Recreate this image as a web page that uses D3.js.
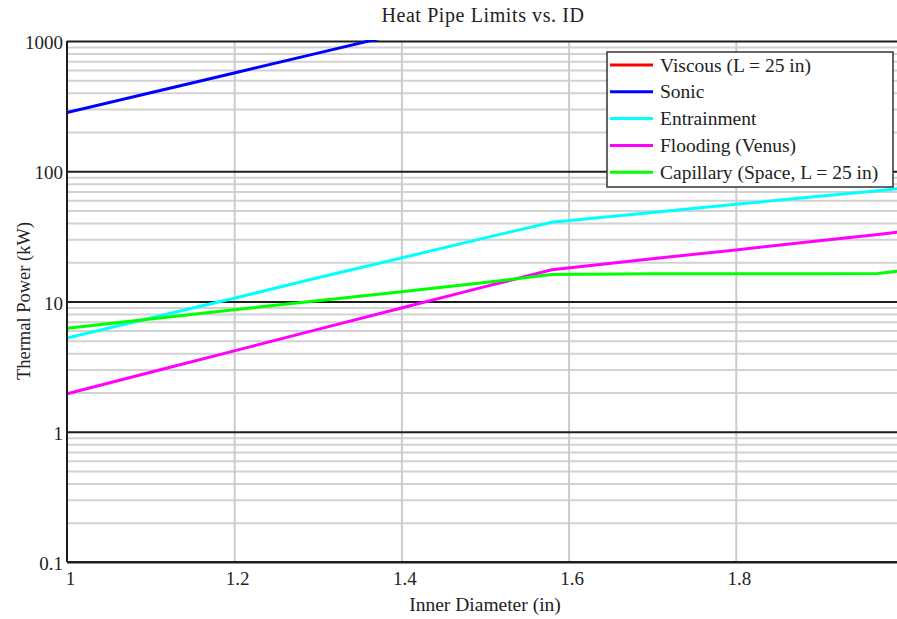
<!DOCTYPE html>
<html>
<head>
<meta charset="utf-8">
<script src="https://cdn.jsdelivr.net/npm/d3@7"></script>
<style>
  html, body { margin: 0; padding: 0; background: #fff; }
  svg { display: block; }
  text { font-family: "Liberation Serif", "Times New Roman", serif; fill: #222; }
</style>
</head>
<body>
<svg id="chart" width="897" height="619"></svg>
<script>
// ---- data ----
const diameters   = [1.0, 1.1, 1.2, 1.3, 1.4, 1.5, 1.58, 1.7, 1.8, 1.9, 1.97, 2.0];
const entrainment = [5.23, 7.46, 10.6, 15.2, 21.6, 30.8, 40.6, 48.3, 55.7, 64.2, 70.9, 74.0];
const flooding    = [1.96, 2.86, 4.18, 6.11, 8.92, 13.0, 17.5, 21.3, 24.9, 29.3, 32.7, 34.4];
const capillary   = [6.24, 7.34, 8.64, 10.15, 11.9, 14.0, 16.1, 16.3, 16.3, 16.3, 16.4, 17.3];
const sonicD      = [1.0, 1.1, 1.2, 1.3, 1.4];
const sonic       = [282, 400, 568, 807, 1146];
// Viscous limit lies above the plotted range (off-scale, not visible)
const viscous     = [null, null, null, null, null, null, null, null, null, null, null, null];

const seriesNames  = ["Viscous (L = 25 in)", "Sonic", "Entrainment", "Flooding (Venus)", "Capillary (Space, L = 25 in)"];
const seriesColors = ["#ff0000", "#0000ff", "#00ffff", "#ff00ff", "#00ff00"];
const xTicks = [1, 1.2, 1.4, 1.6, 1.8];
const xTickLabels = ["1", "1.2", "1.4", "1.6", "1.8"];
const yMajor = [0.1, 1, 10, 100, 1000];
const yMajorLabels = ["0.1", "1", "10", "100", "1000"];
const title = "Heat Pipe Limits vs. ID";
const xTitle = "Inner Diameter (in)";
const yTitle = "Thermal Power (kW)";

(function () {
// ---- layout ----
const svg = d3.select("#chart");
const pL = 67, pR = 903, pT = 41, pB = 562;
const x = d3.scaleLinear().domain([1, 2]).range([pL, pR]);
const y = d3.scaleLog().domain([0.1, 1000]).range([pB, pT]);

svg.append("defs").append("clipPath").attr("id", "plotclip")
  .append("rect").attr("x", pL).attr("y", pT - 1).attr("width", pR - pL).attr("height", pB - pT + 2);

// minor horizontal gridlines
const minor = y.ticks().filter(v => !yMajor.some(m => Math.abs(m - v) / m < 1e-6));
const yMinorAxis = d3.axisLeft(y).tickValues(minor).tickSize(-(pR - pL)).tickFormat("");
const gMinor = svg.append("g").attr("transform", `translate(${pL},0)`).call(yMinorAxis);
gMinor.select(".domain").remove();
gMinor.selectAll("line").attr("stroke", "#d2d2d2").attr("stroke-width", 2);

// vertical gridlines
const xGridAxis = d3.axisBottom(x).tickValues([1.2, 1.4, 1.6, 1.8, 2.0]).tickSize(-(pB - pT)).tickFormat("");
const gXGrid = svg.append("g").attr("transform", `translate(0,${pB})`).call(xGridAxis);
gXGrid.select(".domain").remove();
gXGrid.selectAll("line").attr("stroke", "#cccccc").attr("stroke-width", 2);

// major horizontal lines + labels
const yMajorAxis = d3.axisLeft(y).tickValues(yMajor).tickSize(-(pR - pL))
  .tickFormat((d, i) => yMajorLabels[i]).tickPadding(4);
const gMajor = svg.append("g").attr("transform", `translate(${pL},0)`).call(yMajorAxis);
gMajor.select(".domain").remove();
gMajor.selectAll("line").attr("stroke", "#1e1e1e").attr("stroke-width", 2);
gMajor.selectAll("text").attr("font-size", 19).attr("font-family", "Liberation Serif")
  .attr("fill", "#222").attr("dy", "0.4em").attr("x", -4);

// curves
const line = d3.line().defined(d => d[1] != null).x(d => x(d[0])).y(d => y(d[1]));
const series = [
  { xs: diameters, ys: viscous },
  { xs: sonicD, ys: sonic },
  { xs: diameters, ys: entrainment },
  { xs: diameters, ys: flooding },
  { xs: diameters, ys: capillary }
];
const gCurves = svg.append("g").attr("clip-path", "url(#plotclip)");
series.forEach((s, i) => {
  const pts = s.xs.map((d, j) => [d, s.ys[j]]);
  gCurves.append("path").datum(pts).attr("d", line)
    .attr("fill", "none").attr("stroke", seriesColors[i]).attr("stroke-width", 3);
});

// axis lines
svg.append("line").attr("x1", pL).attr("x2", pL).attr("y1", pT).attr("y2", pB)
  .attr("stroke", "#1e1e1e").attr("stroke-width", 2);
svg.append("line").attr("x1", pL).attr("x2", pR).attr("y1", pB).attr("y2", pB)
  .attr("stroke", "#1e1e1e").attr("stroke-width", 2);

// x tick labels
const xAxis = d3.axisBottom(x).tickValues(xTicks).tickSize(0).tickPadding(10)
  .tickFormat((d, i) => xTickLabels[i]);
const gX = svg.append("g").attr("transform", `translate(0,${pB})`).call(xAxis);
gX.select(".domain").remove();
gX.selectAll("text").attr("font-size", 19).attr("font-family", "Liberation Serif")
  .attr("fill", "#222").attr("dx", 3);

// titles
svg.append("text").attr("x", 483).attr("y", 22).attr("text-anchor", "middle")
  .attr("font-size", 20).attr("letter-spacing", 0.6).text(title);
svg.append("text").attr("x", 485).attr("y", 611).attr("text-anchor", "middle")
  .attr("font-size", 19.5).text(xTitle);
svg.append("text").attr("transform", "translate(30,301) rotate(-90)").attr("text-anchor", "middle")
  .attr("font-size", 18.5).text(yTitle);

// legend
const lg = svg.append("g");
lg.append("rect").attr("x", 607).attr("y", 52).attr("width", 286).attr("height", 135)
  .attr("fill", "#fff").attr("stroke", "#333").attr("stroke-width", 1.5);
seriesNames.forEach((name, i) => {
  const cy = 65 + i * 26.8;
  lg.append("line").attr("x1", 610).attr("x2", 653).attr("y1", cy).attr("y2", cy)
    .attr("stroke", seriesColors[i]).attr("stroke-width", 3);
  lg.append("text").attr("x", 660).attr("y", cy + 6.5).attr("font-size", 19.5).text(name);
});
})();
</script>
</body>
</html>
